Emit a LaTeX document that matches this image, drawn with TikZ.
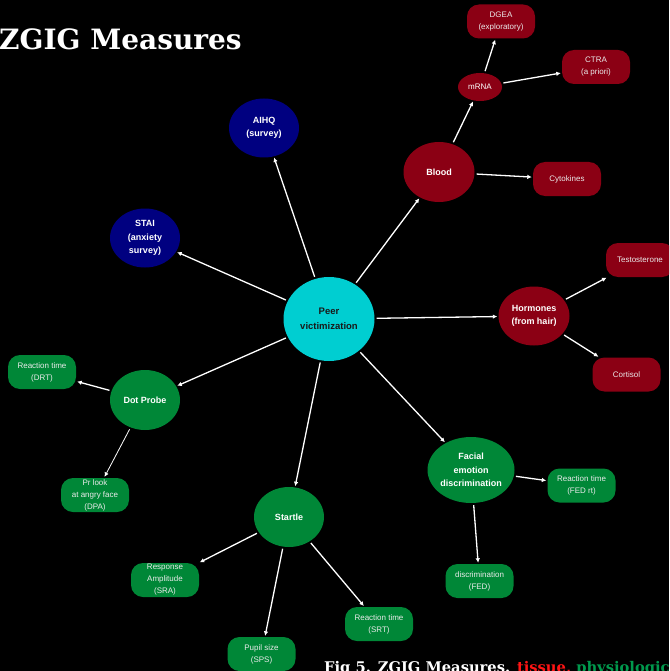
\documentclass[tikz,border=0pt]{standalone}
\usepackage{fontspec}
\setmainfont{Liberation Sans}
\newfontfamily\serifbold{DejaVu Serif}
\usetikzlibrary{shapes.geometric,arrows.meta}
\definecolor{navyb}{RGB}{0,0,128}
\definecolor{redb}{RGB}{139,0,20}
\definecolor{greenb}{RGB}{0,135,55}
\definecolor{cyanb}{RGB}{0,206,209}
\definecolor{capred}{RGB}{255,20,20}
\definecolor{capgreen}{RGB}{0,153,77}
\tikzset{
  bub/.style={ellipse, inner sep=0pt, align=center, text=white,
    font=\fontsize{9}{13.5}\selectfont\bfseries},
  box/.style={rectangle, rounded corners=12pt, minimum width=68pt, minimum height=34pt,
    inner sep=0pt, align=center, text=white!92!black,
    font=\fontsize{8}{12}\selectfont},
  arr/.style={draw=white, line width=1.3pt, -{Latex[length=4.5pt,width=4.5pt]},
    shorten >=1pt, shorten <=2pt},
  thinarr/.style={arr, line width=0.8pt}
}
\begin{document}
\begin{tikzpicture}[x=1pt,y=-1pt]
\useasboundingbox (0,0) rectangle (669,671);
\clip (0,0) rectangle (669,671);
\fill[black] (0,0) rectangle (669,671);

% title
\node[anchor=base west, inner sep=0pt, text=white, font=\serifbold\bfseries\fontsize{28}{28}\selectfont] (title) at (-1,49.5) {ZGIG Measures};

% centre
\node[bub, fill=cyanb, minimum width=91pt, minimum height=84pt, text=black!90,
  font=\fontsize{9.5}{15}\selectfont\bfseries] (peer) at (329,319) {Peer\\victimization};

% surveys
\node[bub, fill=navyb, minimum width=70pt, minimum height=59pt] (aihq) at (264,128) {AIHQ\\(survey)};
\node[bub, fill=navyb, minimum width=70pt, minimum height=59pt] (stai) at (145,238) {STAI\\(anxiety\\survey)};

% tissue
\node[bub, fill=redb, minimum width=71pt, minimum height=60pt] (blood) at (439,172) {Blood};
\node[bub, fill=redb, minimum width=44pt, minimum height=28pt, font=\fontsize{8}{12}\selectfont] (mrna) at (480,87) {mRNA};
\node[box, fill=redb] (dgea) at (501,21.5) {DGEA\\(exploratory)};
\node[box, fill=redb] (ctra) at (596,67) {CTRA\\(a priori)};
\node[box, fill=redb] (cyto) at (567,179) {Cytokines};
\node[bub, fill=redb, minimum width=71pt, minimum height=59pt] (horm) at (534,316) {Hormones\\(from hair)};
\node[box, fill=redb] (testo) at (640,260) {Testosterone};
\node[box, fill=redb] (cort) at (626.5,374.5) {Cortisol};

% physiologic
\node[bub, fill=greenb, minimum width=70pt, minimum height=60pt] (dot) at (145,400) {Dot Probe};
\node[box, fill=greenb] (drt) at (42,372) {Reaction time\\(DRT)};
\node[box, fill=greenb] (dpa) at (95,495) {Pr look\\at angry face\\(DPA)};
\node[bub, fill=greenb, minimum width=70pt, minimum height=60pt] (startle) at (289,517) {Startle};
\node[box, fill=greenb] (sra) at (165,580) {Response\\Amplitude\\(SRA)};
\node[box, fill=greenb] (sps) at (261.5,654) {Pupil size\\(SPS)};
\node[box, fill=greenb] (srt) at (379,624) {Reaction time\\(SRT)};
\node[bub, fill=greenb, minimum width=76pt, minimum height=66pt] (fed) at (471,470) {Facial\\emotion\\discrimination};
\node[box, fill=greenb] (fedrt) at (581.5,485.5) {Reaction time\\(FED rt)};
\node[box, fill=greenb] (feddis) at (479.5,581) {discrimination\\(FED)};

% connectors
\draw[arr] (peer) -- (aihq);
\draw[arr] (peer) -- (stai);
\draw[arr] (peer) -- (blood);
\draw[arr] (peer) -- (horm);
\draw[arr] (peer) -- (dot);
\draw[arr] (peer) -- (startle);
\draw[arr] (peer) -- (fed);
\draw[arr] (blood) -- (mrna);
\draw[arr] (blood) -- (cyto);
\draw[arr] (mrna) -- (dgea);
\draw[arr] (mrna) -- (ctra);
\draw[arr] (horm) -- (testo);
\draw[arr] (horm) -- (cort);
\draw[arr] (dot) -- (drt);
\draw[thinarr] (dot) -- (dpa);
\draw[arr] (startle) -- (sra);
\draw[arr] (startle) -- (sps);
\draw[arr] (startle) -- (srt);
\draw[arr] (fed) -- (fedrt);
\draw[arr] (fed) -- (feddis);

% caption
\node[anchor=base west, inner sep=0pt, text=white, font=\serifbold\bfseries\fontsize{14.7}{15}\selectfont] (caption) at (324,672.5)
  {Fig 5. ZGIG Measures. \textcolor{capred}{tissue,} \textcolor{capgreen}{physiological}};
\end{tikzpicture}
\end{document}
